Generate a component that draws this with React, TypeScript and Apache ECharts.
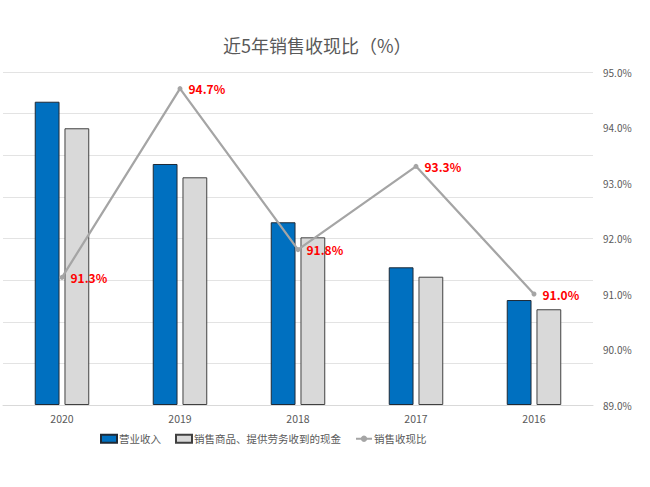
import React, { useEffect, useRef } from "react";
import * as echarts from "echarts";

const years = ["2020", "2019", "2018", "2017", "2016"];
const revenue = [364.3, 289.5, 219.5, 165.4, 126.1];
const cashReceived = [332.4, 273.5, 201.4, 154.1, 115.0];
const cashRatio = [91.3, 94.7, 91.8, 93.3, 91.0];

const FONT = "'Noto Sans CJK SC', 'Noto Sans', sans-serif";
const GREY_TEXT = "#595959";

const App = () => {
  const chartRef = useRef(null);

  useEffect(() => {
    if (!chartRef.current) return;
    const chart = echarts.init(chartRef.current, null, { renderer: "svg" });

    const option = {
      animation: false,
      backgroundColor: "#ffffff",
      textStyle: { fontFamily: FONT },
      title: {
        text: "近5年销售收现比（%）",
        left: 218,
        top: 31,
        textStyle: {
          fontSize: 18,
          fontWeight: "normal",
          color: GREY_TEXT,
          fontFamily: FONT,
        },
      },
      legend: {
        bottom: 38,
        left: 95,
        itemWidth: 16,
        itemHeight: 8,
        itemGap: 14,
        textStyle: {
          fontSize: 10.5,
          color: GREY_TEXT,
          fontFamily: FONT,
          padding: [0, 0, 0, -3],
        },
        data: [
          { name: "营业收入", icon: "rect" },
          { name: "销售商品、提供劳务收到的现金", icon: "rect" },
          { name: "销售收现比" },
        ],
      },
      grid: { left: 3, right: 57, top: 72, bottom: 82, containLabel: false },
      xAxis: {
        type: "category",
        data: years,
        axisTick: { show: false },
        axisLine: { lineStyle: { color: "#d9d9d9" } },
        axisLabel: { color: GREY_TEXT, fontSize: 10.5, margin: 8 },
      },
      yAxis: [
        {
          type: "value",
          min: 0,
          max: 400,
          interval: 50,
          axisLabel: { show: false },
          axisLine: { show: false },
          axisTick: { show: false },
          splitLine: { lineStyle: { color: "#e3e3e3", width: 1 } },
        },
        {
          type: "value",
          position: "right",
          min: 89,
          max: 95,
          interval: 1,
          axisLine: { show: false },
          axisTick: { show: false },
          splitLine: { show: false },
          axisLabel: {
            color: GREY_TEXT,
            fontSize: 10,
            margin: 10,
            formatter: (v) => v.toFixed(1) + "%",
          },
        },
      ],
      series: [
        {
          name: "营业收入",
          type: "bar",
          data: revenue,
          barWidth: "21%",
          barGap: "20%",
          itemStyle: { color: "#0070C0", borderColor: "#1f2a36", borderWidth: 1 },
        },
        {
          name: "销售商品、提供劳务收到的现金",
          type: "bar",
          data: cashReceived,
          barWidth: "21%",
          itemStyle: { color: "#D9D9D9", borderColor: "#404040", borderWidth: 1 },
        },
        {
          name: "销售收现比",
          type: "line",
          yAxisIndex: 1,
          data: cashRatio,
          symbol: "circle",
          symbolSize: 5,
          lineStyle: { color: "#A5A5A5", width: 2.25 },
          itemStyle: { color: "#A5A5A5" },
          label: {
            show: true,
            position: "right",
            distance: 6,
            color: "#FF0000",
            fontWeight: "bold",
            fontSize: 12,
            fontFamily: FONT,
            formatter: (p) => p.value.toFixed(1) + "%",
          },
        },
      ],
    };

    chart.setOption(option);
    return () => {
      chart.dispose();
    };
  }, []);

  return (
    <div
      ref={chartRef}
      style={{ position: "fixed", left: 0, top: 0, width: "650px", height: "487px" }}
    />
  );
};

export default App;
